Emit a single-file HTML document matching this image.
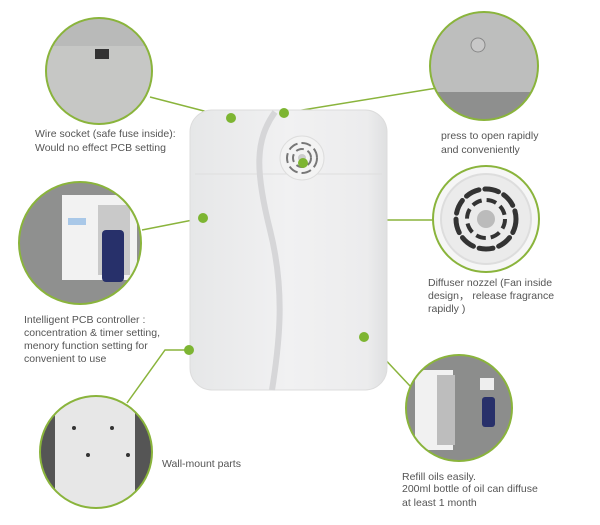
<!DOCTYPE html>
<html><head><style>
html,body{margin:0;padding:0;background:#fff;}
svg{display:block;}
text{font-family:"Liberation Sans",sans-serif;font-size:10.5px;fill:#555;}
</style></head><body>
<svg width="600" height="525" viewBox="0 0 600 525" xmlns="http://www.w3.org/2000/svg">
<defs>
<linearGradient id="dev" x1="0" x2="1" y1="0" y2="0">
<stop offset="0" stop-color="#e6e7e8"/><stop offset="0.5" stop-color="#f1f1f2"/><stop offset="0.9" stop-color="#ececed"/><stop offset="1" stop-color="#dfe0e1"/>
</linearGradient>
<clipPath id="c1"><circle cx="99" cy="71" r="53"/></clipPath>
<clipPath id="c2"><circle cx="484" cy="66" r="54"/></clipPath>
<clipPath id="c4"><circle cx="80" cy="243" r="61"/></clipPath>
<clipPath id="c5"><circle cx="96" cy="452" r="56"/></clipPath>
<clipPath id="c6"><circle cx="459" cy="408" r="53"/></clipPath>
</defs>

<g stroke="#8ab43c" stroke-width="1.5" fill="none">
<polyline points="231,118 150,97"/>
<polyline points="284,113 437,88"/>
<polyline points="303,163 338,220 433,220"/>
<polyline points="203,218 142,230"/>
<polyline points="189,350 165,350 127,403"/>
<polyline points="364,337 411,387"/>
</g>

<rect x="190" y="110" width="197" height="280" rx="22" fill="url(#dev)" stroke="#dcdcdc"/>
<line x1="195" y1="174" x2="382" y2="174" stroke="#dedede"/>
<path d="M275,112 C255,140 255,170 270,230 C285,290 280,340 272,390" stroke="#d6d6d8" stroke-width="6" fill="none"/>
<circle cx="302" cy="158" r="22" fill="#f3f3f3" stroke="#ddd"/>
<circle cx="302" cy="158" r="15" fill="none" stroke="#777" stroke-width="2" stroke-dasharray="10 4"/>
<circle cx="302" cy="158" r="9" fill="none" stroke="#777" stroke-width="2" stroke-dasharray="8 4"/>
<circle cx="302" cy="158" r="4" fill="#ccc"/>

<g clip-path="url(#c1)">
<rect x="40" y="10" width="120" height="130" fill="#b9bab9"/>
<rect x="40" y="46" width="120" height="90" fill="#c6c7c5"/>
<rect x="95" y="49" width="14" height="10" fill="#333"/>
</g>
<circle cx="99" cy="71" r="53" fill="none" stroke="#8ab43c" stroke-width="2"/>

<g clip-path="url(#c2)">
<rect x="425" y="5" width="120" height="125" fill="#bdbebd"/>
<rect x="425" y="92" width="120" height="35" fill="#8e8f8e"/>
<circle cx="478" cy="45" r="7" fill="#c8c8c8" stroke="#888"/>
</g>
<circle cx="484" cy="66" r="54" fill="none" stroke="#8ab43c" stroke-width="2"/>

<circle cx="486" cy="219" r="53" fill="#f6f6f6"/>
<circle cx="486" cy="219" r="45" fill="#ebebeb" stroke="#ddd" stroke-width="2"/>
<circle cx="486" cy="219" r="30" fill="none" stroke="#333" stroke-width="5" stroke-dasharray="14 6" stroke-linecap="round"/>
<circle cx="486" cy="219" r="19" fill="none" stroke="#333" stroke-width="4" stroke-dasharray="10 5"/>
<circle cx="486" cy="219" r="9" fill="#bbb"/>
<circle cx="486" cy="219" r="53" fill="none" stroke="#8ab43c" stroke-width="2"/>

<g clip-path="url(#c4)">
<rect x="15" y="180" width="130" height="130" fill="#8f908f"/>
<rect x="62" y="195" width="75" height="85" fill="#f2f2f2"/>
<rect x="98" y="205" width="32" height="70" fill="#c9c9c9"/>
<rect x="102" y="230" width="22" height="52" rx="4" fill="#27306a"/>
<rect x="68" y="218" width="18" height="7" fill="#a9c8e8"/>
</g>
<circle cx="80" cy="243" r="61" fill="none" stroke="#8ab43c" stroke-width="2"/>

<g clip-path="url(#c5)">
<rect x="35" y="390" width="125" height="125" fill="#555"/>
<rect x="55" y="395" width="80" height="120" fill="#e7e7e7"/>
<circle cx="74" cy="428" r="2" fill="#333"/><circle cx="112" cy="428" r="2" fill="#333"/>
<circle cx="88" cy="455" r="2" fill="#333"/><circle cx="128" cy="455" r="2" fill="#333"/>
</g>
<circle cx="96" cy="452" r="56" fill="none" stroke="#8ab43c" stroke-width="2"/>

<g clip-path="url(#c6)">
<rect x="400" y="350" width="120" height="120" fill="#8c8d8c"/>
<rect x="415" y="370" width="38" height="80" fill="#f1f1f1"/>
<rect x="437" y="375" width="18" height="70" fill="#bdbdbd"/>
<rect x="480" y="378" width="14" height="12" fill="#eee"/>
<rect x="482" y="397" width="13" height="30" rx="3" fill="#28306a"/>
</g>
<circle cx="459" cy="408" r="53" fill="none" stroke="#8ab43c" stroke-width="2"/>

<g fill="#7db532">
<circle cx="231" cy="118" r="5"/><circle cx="284" cy="113" r="5"/>
<circle cx="303" cy="163" r="5"/><circle cx="203" cy="218" r="5"/>
<circle cx="189" cy="350" r="5"/><circle cx="364" cy="337" r="5"/>
</g>

<text x="35" y="137">Wire socket (safe fuse inside):</text>
<text x="35" y="151">Would no effect PCB setting</text>
<text x="441" y="139">press to open rapidly</text>
<text x="441" y="153">and conveniently</text>
<text x="428" y="286">Diffuser nozzel (Fan inside</text>
<text x="428" y="299">design， release fragrance</text>
<text x="428" y="312">rapidly )</text>
<text x="24" y="323">Intelligent PCB controller :</text>
<text x="24" y="336">concentration &amp; timer setting,</text>
<text x="24" y="349">menory function setting for</text>
<text x="24" y="362">convenient to use</text>
<text x="162" y="467">Wall-mount parts</text>
<text x="402" y="480">Refill oils easily.</text>
<text x="402" y="492">200ml bottle of oil can diffuse</text>
<text x="402" y="506">at least 1 month</text>
</svg>
</body></html>
